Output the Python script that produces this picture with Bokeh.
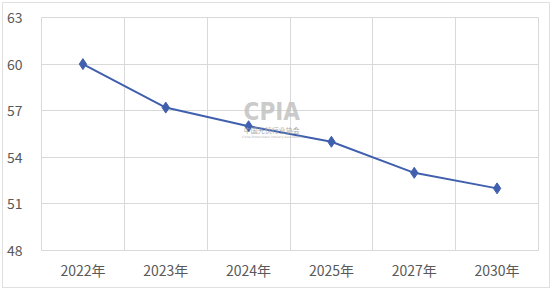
from bokeh.plotting import figure
from bokeh.models import FixedTicker, Label, ColumnDataSource
from bokeh.embed import file_html
from bokeh.resources import INLINE

years = ["2022年", "2023年", "2024年", "2025年", "2027年", "2030年"]
values = [60, 57.2, 56, 55, 53, 52]
y_ticks = [48, 51, 54, 57, 60, 63]

xs = [i + 0.5 for i in range(len(years))]
src = ColumnDataSource(dict(x=xs, y=values))

p = figure(width=546, height=284, output_backend="svg", toolbar_location=None,
           x_range=(0, len(years)), y_range=(48, 63),
           min_border_left=37, min_border_right=13, min_border_top=14, min_border_bottom=39)
p.styles = {"margin": "2px", "border": "1px solid #e0e0e0", "box-sizing": "content-box"}
p.background_fill_color = "white"
p.border_fill_color = "white"
p.outline_line_color = "#d9d9d9"
p.outline_line_width = 1

font = "Noto Sans CJK SC"
p.xaxis.ticker = FixedTicker(ticks=xs)
p.xaxis.major_label_overrides = {x: lab for x, lab in zip(xs, years)}
p.yaxis.ticker = FixedTicker(ticks=y_ticks)
for ax in (p.xaxis, p.yaxis):
    ax.axis_line_color = None
    ax.major_tick_line_color = None
    ax.minor_tick_line_color = None
    ax.major_label_text_font = font
    ax.major_label_text_font_size = "14px"
    ax.major_label_text_color = "#595959"
p.xaxis.major_label_standoff = 3
p.yaxis.major_label_standoff = 13

p.xgrid.ticker = FixedTicker(ticks=list(range(len(years) + 1)))
p.ygrid.ticker = FixedTicker(ticks=y_ticks)
p.xgrid.grid_line_color = "#d9d9d9"
p.ygrid.grid_line_color = "#d9d9d9"

# watermark
p.add_layout(Label(x=2.78, y=56.9, text="CPIA", text_font="DejaVu Sans Condensed",
                   text_font_style="bold", text_font_size="24px", text_color="#bdbdbd",
                   text_align="center", text_baseline="middle", text_alpha=0.8))
p.add_layout(Label(x=2.78, y=55.75, text="中国光伏行业协会", text_font=font,
                   text_font_size="7px", text_color="#9a9a9a",
                   text_align="center", text_baseline="middle", text_alpha=0.9))
p.add_layout(Label(x=2.78, y=55.35, text="China Photovoltaic Industry Association", text_font="DejaVu Sans",
                   text_font_size="3px", text_color="#b0b0b0",
                   text_align="center", text_baseline="middle"))

p.line("x", "y", source=src, line_color="#4060AE", line_width=2)
p.scatter("x", "y", source=src, marker="diamond", size=11, fill_color="#4060AE", line_color="#4060AE")

open("out.html", "w").write(file_html(p, INLINE))
